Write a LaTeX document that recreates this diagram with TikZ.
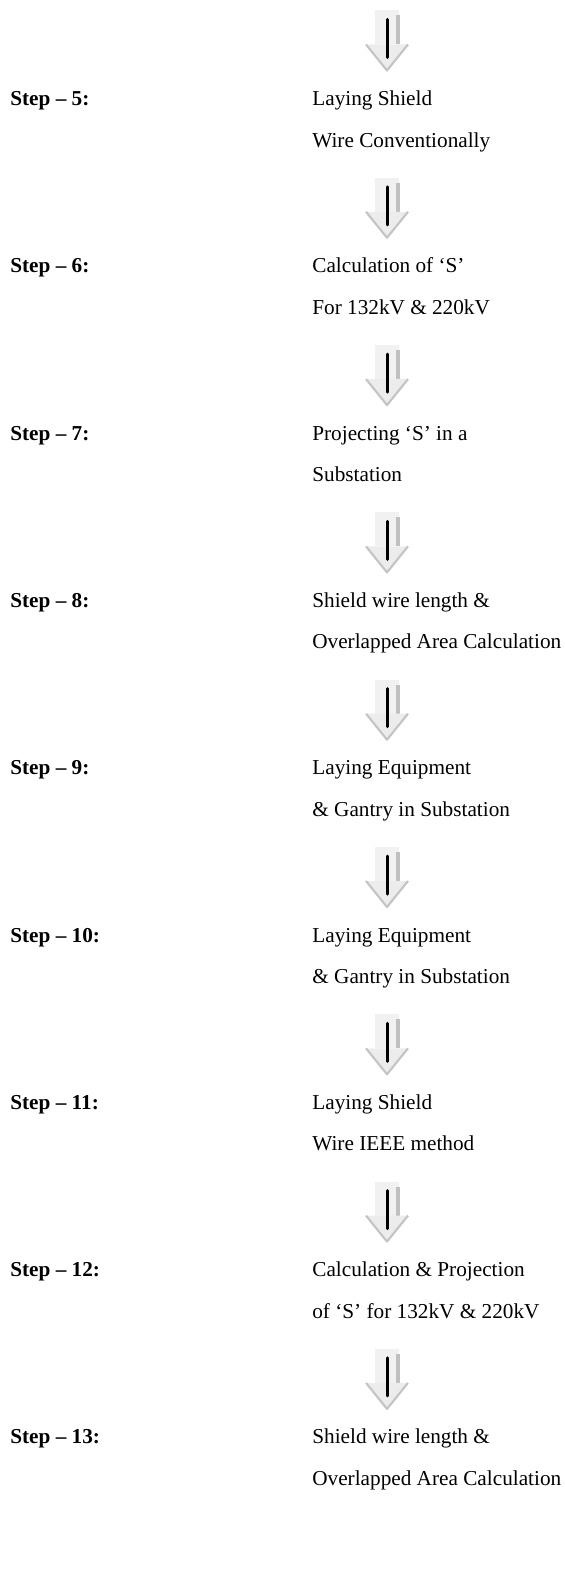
\documentclass[tikz,border=0pt]{standalone}
\usepackage{fontspec}
\setmainfont{Liberation Serif}
\usepackage{tikz}
\usetikzlibrary{positioning}
\usepackage{xcolor}
\definecolor{shaftgrey}{RGB}{241,241,241}
\definecolor{shadegrey}{RGB}{192,192,192}
\definecolor{headgrey}{RGB}{236,236,236}
\definecolor{edgegrey}{RGB}{196,196,196}
\tikzset{
  steplabel/.style = {anchor=base west, font=\fontsize{12}{14}\selectfont\bfseries, inner sep=0pt},
  steptext/.style  = {anchor=base west, font=\fontsize{12}{14}\selectfont, inner sep=0pt},
  nextline/.style  = {below=23.5pt of #1, anchor=base west},
  blockarrow/.pic  = {
    \fill[shaftgrey] (-12,0) rectangle (12,34);
    \fill[shadegrey] (9,5) rectangle (13,34);
    \fill[headgrey] (-21,34) -- (21,34) -- (0,60) -- cycle;
    \draw[edgegrey, line width=1.2pt, line join=round] (-21,34) -- (0,60) -- (21,34);
    \draw[black, line width=1.7pt, line cap=round] (0,9) -- (0,47);
  }
}

\begin{document}
\begin{tikzpicture}[x=0.565pt, y=-0.565pt]

\useasboundingbox (0,0) rectangle (564,1592);

% arrows between the steps
\pic (a5)  at (387,10.5)   {blockarrow};
\pic (a6)  at (387,177.8)  {blockarrow};
\pic (a7)  at (387,345.1)  {blockarrow};
\pic (a8)  at (387,512.4)  {blockarrow};
\pic (a9)  at (387,679.7)  {blockarrow};
\pic (a10) at (387,847.0)  {blockarrow};
\pic (a11) at (387,1014.3) {blockarrow};
\pic (a12) at (387,1181.6) {blockarrow};
\pic (a13) at (387,1348.9) {blockarrow};

% step 5
\node[steplabel] (s5) at (10,105.5) {Step -- 5:};
\node[steptext] (t5a) at (312,105.5) {Laying Shield};
\node[steptext, nextline=t5a.base west] (t5b) {Wire Conventionally};

% step 6
\node[steplabel] (s6) at (10,272.8) {Step -- 6:};
\node[steptext] (t6a) at (312,272.8) {Calculation of `S'};
\node[steptext, nextline=t6a.base west] (t6b) {For 132kV \& 220kV};

% step 7
\node[steplabel] (s7) at (10,440.1) {Step -- 7:};
\node[steptext] (t7a) at (312,440.1) {Projecting `S' in a};
\node[steptext, nextline=t7a.base west] (t7b) {Substation};

% step 8
\node[steplabel] (s8) at (10,607.4) {Step -- 8:};
\node[steptext] (t8a) at (312,607.4) {Shield wire length \&};
\node[steptext, nextline=t8a.base west] (t8b) {Overlapped Area Calculation};

% step 9
\node[steplabel] (s9) at (10,774.7) {Step -- 9:};
\node[steptext] (t9a) at (312,774.7) {Laying Equipment};
\node[steptext, nextline=t9a.base west] (t9b) {\& Gantry in Substation};

% step 10
\node[steplabel] (s10) at (10,942.0) {Step -- 10:};
\node[steptext] (t10a) at (312,942.0) {Laying Equipment};
\node[steptext, nextline=t10a.base west] (t10b) {\& Gantry in Substation};

% step 11
\node[steplabel] (s11) at (10,1109.3) {Step -- 11:};
\node[steptext] (t11a) at (312,1109.3) {Laying Shield};
\node[steptext, nextline=t11a.base west] (t11b) {Wire IEEE method};

% step 12
\node[steplabel] (s12) at (10,1276.6) {Step -- 12:};
\node[steptext] (t12a) at (312,1276.6) {Calculation \& Projection};
\node[steptext, nextline=t12a.base west] (t12b) {of `S' for 132kV \& 220kV};

% step 13
\node[steplabel] (s13) at (10,1443.9) {Step -- 13:};
\node[steptext] (t13a) at (312,1443.9) {Shield wire length \&};
\node[steptext, nextline=t13a.base west] (t13b) {Overlapped Area Calculation};

\end{tikzpicture}
\end{document}
